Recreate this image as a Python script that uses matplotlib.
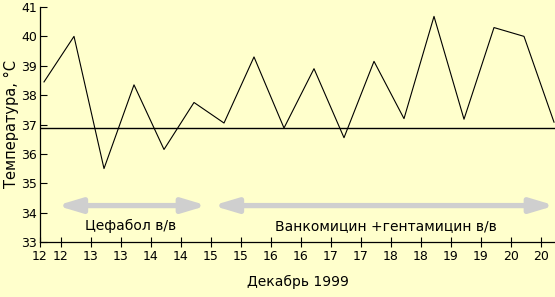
import numpy as np
import matplotlib.pyplot as plt
from matplotlib.patches import FancyArrowPatch

# temperature readings, twice a day (morning / evening)
temps = [38.45, 40.0, 35.5, 38.35, 36.15, 37.75, 37.05, 39.3, 36.88,
         38.9, 36.55, 39.15, 37.2, 40.68, 37.18, 40.3, 40.0, 37.08]
norm_line = 36.87

tick_labels = ['12', '12', '13', '13', '14', '14', '15', '15', '16', '16',
               '17', '17', '18', '18', '19', '19', '20', '20']
y_ticks = [33, 34, 35, 36, 37, 38, 39, 40, 41]

# therapy periods (in reading index units) and their labels
therapy_names = ['Цефабол в/в', 'Ванкомицин +гентамицин в/в']
therapy_start = [0.43, 5.63]
therapy_end = [5.43, 17.03]
therapy_text_x = [2.87, 11.4]

bg = '#FFFFCC'
arrow_col = '#CFCFCF'

fig = plt.figure(figsize=(5.55, 2.97), dpi=100)
fig.patch.set_facecolor(bg)
ax = fig.add_axes([40/555, 55/297, 515/555, 235/297])
ax.set_facecolor(bg)

x = np.arange(len(temps))
ax.plot(x, temps, color='black', lw=0.8)
ax.axhline(norm_line, color='black', lw=1.0)

# therapy arrows + labels
for s, e, name, tx in zip(therapy_start, therapy_end, therapy_names, therapy_text_x):
    arr = FancyArrowPatch((s, 34.24), (e, 34.24),
                          arrowstyle='<|-|>,head_length=1.4,head_width=0.42',
                          mutation_scale=10, lw=3.8, color=arrow_col,
                          shrinkA=0, shrinkB=0, joinstyle='round',
                          clip_on=False)
    ax.add_patch(arr)
    ax.text(tx, 33.55, name, ha='center', va='center', fontsize=10)

xmin, xmax = -4/30, 511/30
ax.set_xlim(xmin, xmax)
ax.set_ylim(33, 41)

xt = [xmin] + [17/30 + k for k in range(17)]
ax.set_xticks(xt)
ax.set_xticklabels(tick_labels, fontsize=9)
ax.set_yticks(y_ticks)
ax.set_yticklabels([str(v) for v in y_ticks], fontsize=9)

ax.tick_params(axis='x', direction='inout', length=7, width=0.8, pad=2)
ax.tick_params(axis='y', direction='in', length=5, width=0.8, pad=2)

for side in ['top', 'right']:
    ax.spines[side].set_visible(False)
ax.spines['left'].set_linewidth(0.9)
ax.spines['bottom'].set_linewidth(0.9)

ax.set_ylabel('Температура, °С', fontsize=10.5, labelpad=2)
ax.set_xlabel('Декабрь 1999', fontsize=10, labelpad=9)

fig.savefig('out.png', dpi=100, facecolor=bg)
